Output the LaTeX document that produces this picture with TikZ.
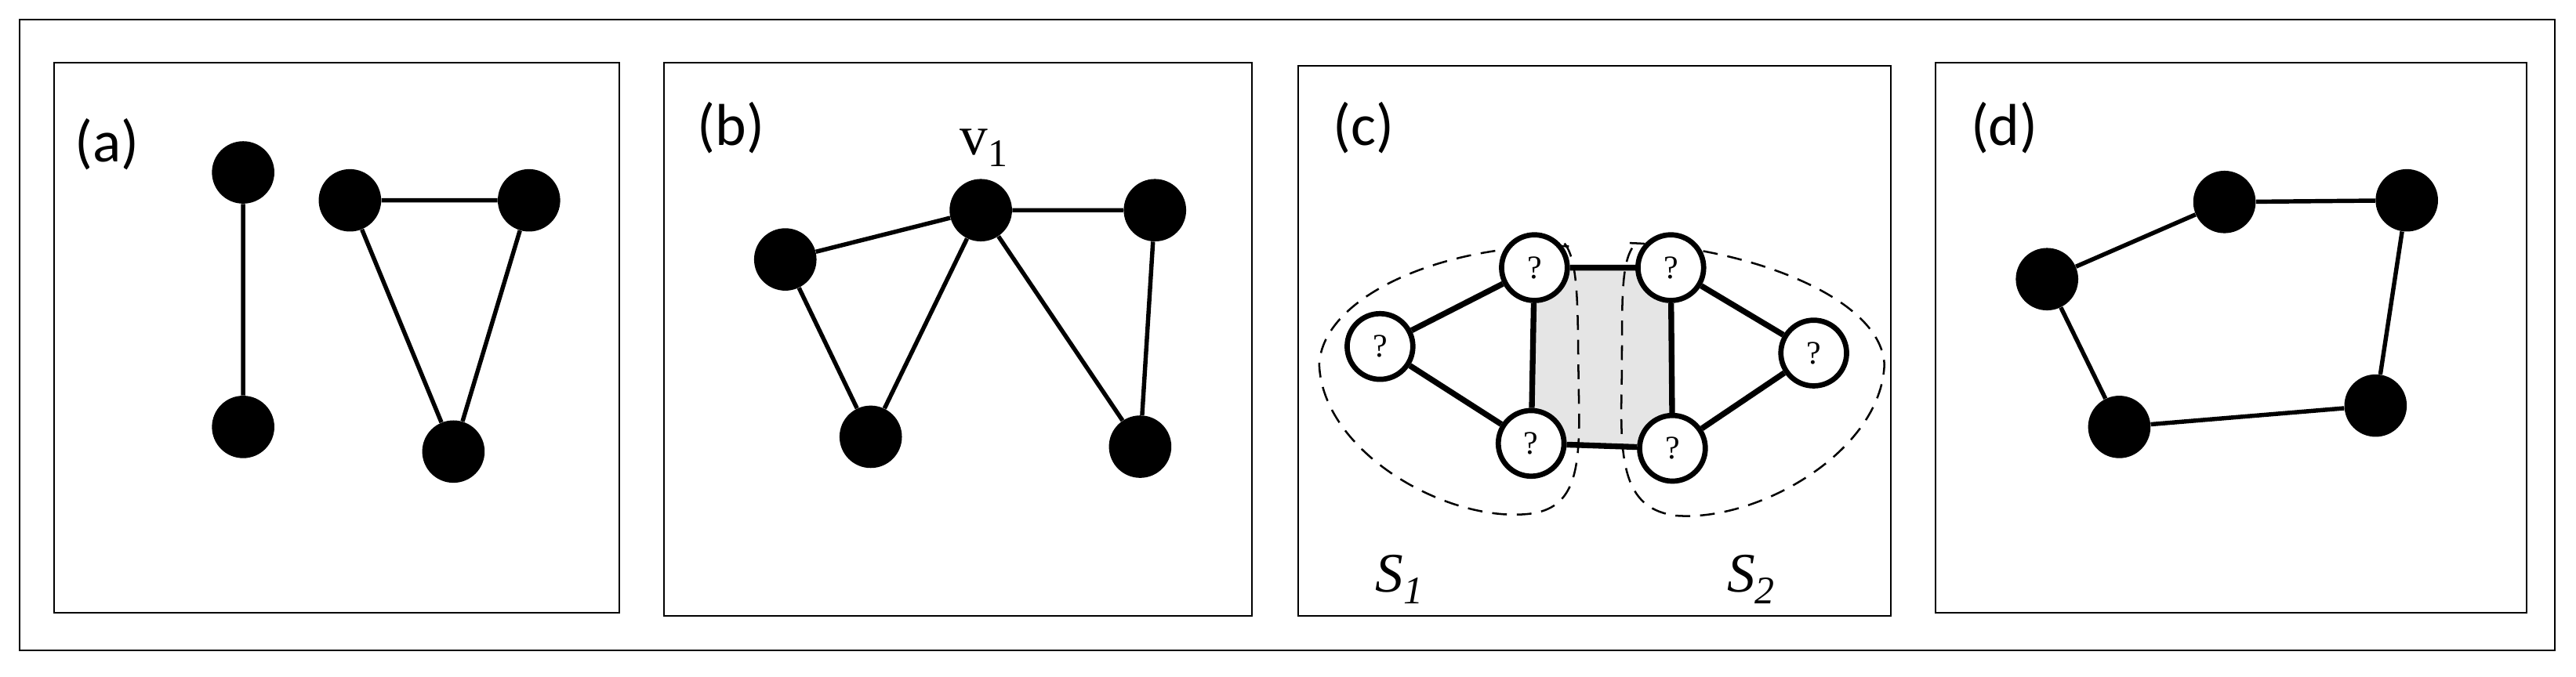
\documentclass[tikz,border=0pt]{standalone}
\usepackage{fontspec}
\setmainfont{Carlito}
\newfontfamily\mathserif{Liberation Serif}
\begin{document}
\begin{tikzpicture}[x=1pt,y=-1pt,
  dot/.style={circle,fill=black,inner sep=0pt,minimum size=38pt},
  q/.style={circle,draw=black,line width=3.2pt,fill=white,inner sep=0pt,minimum size=40pt,font=\mathserif\fontsize{20}{20}\selectfont},
  e/.style={line width=2.6pt},
  ce/.style={line width=3.5pt},
  frame/.style={draw=black,line width=1pt},
  lab/.style={font=\fontsize{36}{36}\selectfont},
  sl/.style={font=\mathserif\itshape\fontsize{34}{34}\selectfont},
  blob/.style={dash pattern=on 9pt off 6pt,line width=1.2pt}]
\useasboundingbox (0,0) rectangle (1568,412);
\draw[frame] (12,12) rectangle (1555,396);
% (a)
\draw[frame] (33,38) rectangle (377,373);
\node[lab] (la) at (65,88) {(a)};
\node[dot] (a1) at (148,105) {};
\node[dot] (a2) at (148,260) {};
\node[dot] (a3) at (213,122) {};
\node[dot] (a4) at (322,122) {};
\node[dot] (a5) at (276,275) {};
\draw[e] (a1)--(a2) (a3)--(a4) (a3)--(a5) (a4)--(a5);
% (b)
\draw[frame] (404,38) rectangle (762,375);
\node[lab] (lb) at (445,78) {(b)};
\node[sl,font=\mathserif\fontsize{34}{34}\selectfont] (v1) at (599,90) {v\textsubscript{1}};
\node[dot] (b1) at (478,158) {};
\node[dot] (b2) at (597,128) {};
\node[dot] (b3) at (703,128) {};
\node[dot] (b4) at (530,266) {};
\node[dot] (b5) at (694,272) {};
\draw[e] (b1)--(b2) (b2)--(b3) (b1)--(b4) (b4)--(b2) (b2)--(b5) (b3)--(b5);
% (c)
\draw[frame] (790,40) rectangle (1151,375);
\node[lab] (lc) at (830,78) {(c)};
\fill[black!10] (932,163) rectangle (1017,273);
\draw[blob] (955,150) .. controls (880,148) and (805,180) .. (803,222) .. controls (805,275) and (880,318) .. (930,313) .. controls (960,310) and (962,285) .. (961,240) .. controls (960,190) and (962,155) .. (950,146);
\draw[blob] (992,148) .. controls (1060,150) and (1145,180) .. (1147,222) .. controls (1145,275) and (1070,318) .. (1020,314) .. controls (990,310) and (986,285) .. (987,240) .. controls (988,190) and (985,158) .. (996,148);
\node[q] (c1) at (840,211) {?};
\node[q] (c2) at (934,163) {?};
\node[q] (c3) at (932,270) {?};
\node[q] (c4) at (1017,163) {?};
\node[q] (c5) at (1018,273) {?};
\node[q] (c6) at (1104,215) {?};
\draw[ce] (c1)--(c2) (c1)--(c3) (c2)--(c3) (c2)--(c4) (c3)--(c5) (c4)--(c5) (c4)--(c6) (c5)--(c6);
\node[sl] (s1) at (852,353) {S\textsubscript{1}};
\node[sl] (s2) at (1066,353) {S\textsubscript{2}};
% (d)
\draw[frame] (1178,38) rectangle (1538,373);
\node[lab] (ld) at (1220,78) {(d)};
\node[dot] (d1) at (1246,170) {};
\node[dot] (d2) at (1354,123) {};
\node[dot] (d3) at (1465,122) {};
\node[dot] (d4) at (1446,247) {};
\node[dot] (d5) at (1290,260) {};
\draw[e] (d1)--(d2)--(d3)--(d4)--(d5)--(d1);
\end{tikzpicture}
\end{document}
